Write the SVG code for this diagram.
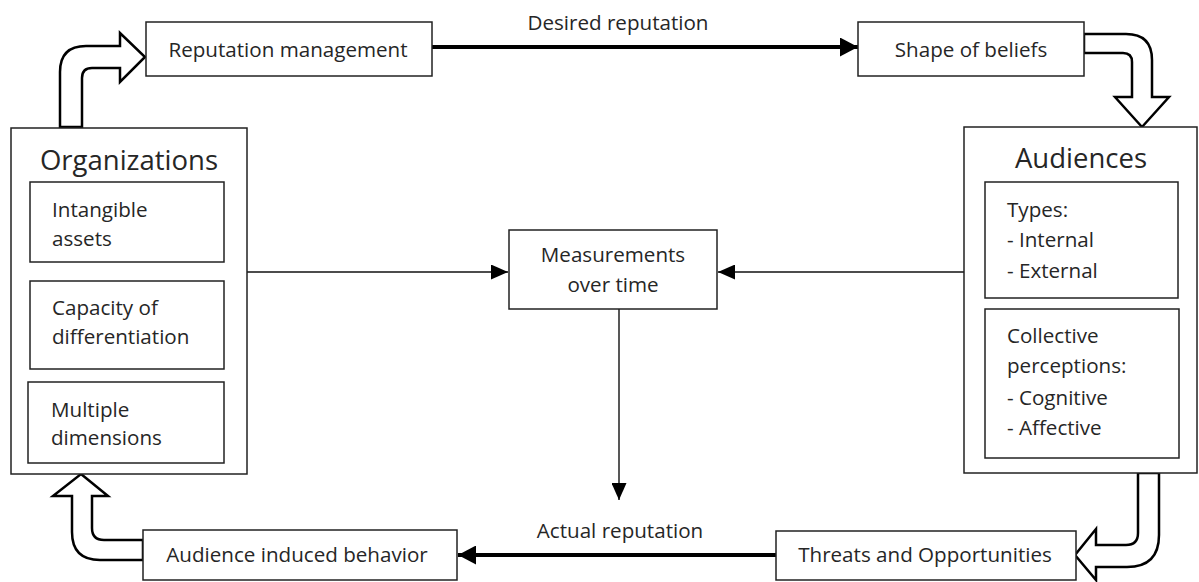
<svg xmlns="http://www.w3.org/2000/svg" width="1199" height="582" viewBox="0 0 1199 582">
<style>
.box{fill:#fff;stroke:#222;stroke-width:1.5}
.blk{fill:#fff;stroke:#000;stroke-width:2.5;stroke-linejoin:miter}
text{font-family:"Open Sans","Noto Sans","DejaVu Sans",sans-serif;fill:#262626;font-size:20.6px}
.t{font-size:27.5px}
.c{text-anchor:middle}
.thin{stroke:#111;stroke-width:1.4;fill:none}
.thick{stroke:#000;stroke-width:4;fill:none}
</style>
<defs>
<marker id="ah" markerUnits="userSpaceOnUse" markerWidth="17" markerHeight="15" refX="17" refY="7.5" orient="auto"><path d="M0,0 L17,7.5 L0,15 Z" fill="#000"/></marker>
<marker id="ahb" markerUnits="userSpaceOnUse" markerWidth="18" markerHeight="19" refX="18" refY="9.5" orient="auto"><path d="M0,0 L18,9.5 L0,19 Z" fill="#000"/></marker>
</defs>
<rect width="1199" height="582" fill="#fff"/>

<g id="connectors">
<line class="thick" x1="432" y1="47" x2="858" y2="47" marker-end="url(#ahb)"/>
<line class="thick" x1="776" y1="555" x2="458" y2="555" marker-end="url(#ahb)"/>
<line class="thin" x1="247" y1="272" x2="508" y2="272" marker-end="url(#ah)"/>
<line class="thin" x1="964" y1="272" x2="718" y2="272" marker-end="url(#ah)"/>
<line class="thin" x1="619" y1="309" x2="619" y2="500" marker-end="url(#ah)"/>
<path class="blk" d="M60,127 L60,72 Q60,46 86,46 L120,46 L120,33 L145,57 L120,82 L120,68 L92,68 Q82,68 82,78 L82,127 Z"/>
<path class="blk" d="M1084,34 L1126,34 Q1152,34 1152,60 L1152,97 L1169,97 L1142,127 L1115,97 L1132,97 L1132,62 Q1132,53 1123,53 L1084,53 Z"/>
<path class="blk" d="M1138,473 L1159,473 L1159,535 Q1159,567 1127,567 L1096,567 L1096,580 L1075,555 L1096,529 L1096,545 L1126,545 Q1138,545 1138,533 Z"/>
<path class="blk" d="M81,474 L108,496 L92,496 L92,528 Q92,540 104,540 L143,540 L143,560 L100,560 Q72,560 72,532 L72,496 L53,496 Z"/>
<text class="c" x="618" y="30">Desired reputation</text>
<text class="c" x="620" y="538">Actual reputation</text>
</g>

<g id="reputation-management">
<rect class="box" x="146" y="22" width="286" height="54"/>
<text class="c" x="288" y="57">Reputation management</text>
</g>

<g id="shape-of-beliefs">
<rect class="box" x="858" y="22" width="226" height="54"/>
<text class="c" x="971" y="57">Shape of beliefs</text>
</g>

<g id="organizations">
<rect class="box" x="11" y="128" width="236" height="346"/>
<text class="t c" x="129" y="170">Organizations</text>
<rect class="box" x="30" y="182" width="194" height="80"/>
<text x="52" y="217">Intangible</text>
<text x="52" y="246">assets</text>
<rect class="box" x="30" y="281" width="194" height="88"/>
<text x="52" y="315">Capacity of</text>
<text x="52" y="344">differentiation</text>
<rect class="box" x="28" y="382" width="196" height="81"/>
<text x="51" y="417">Multiple</text>
<text x="51" y="445">dimensions</text>
</g>

<g id="measurements">
<rect class="box" x="509" y="230" width="208" height="79"/>
<text class="c" x="613" y="262">Measurements</text>
<text class="c" x="613" y="292">over time</text>
</g>

<g id="audiences">
<rect class="box" x="964" y="127" width="233" height="346"/>
<text class="t c" x="1081" y="168">Audiences</text>
<rect class="box" x="985" y="182" width="193" height="116"/>
<text x="1007" y="217">Types:</text>
<text x="1007" y="247">- Internal</text>
<text x="1007" y="278">- External</text>
<rect class="box" x="985" y="309" width="194" height="149"/>
<text x="1007" y="343">Collective</text>
<text x="1007" y="373">perceptions:</text>
<text x="1007" y="405">- Cognitive</text>
<text x="1007" y="435">- Affective</text>
</g>

<g id="audience-induced-behavior">
<rect class="box" x="143" y="530" width="314" height="50"/>
<text class="c" x="297" y="562">Audience induced behavior</text>
</g>

<g id="threats-opportunities">
<rect class="box" x="776" y="531" width="300" height="49"/>
<text class="c" x="925" y="562">Threats and Opportunities</text>
</g>
</svg>
